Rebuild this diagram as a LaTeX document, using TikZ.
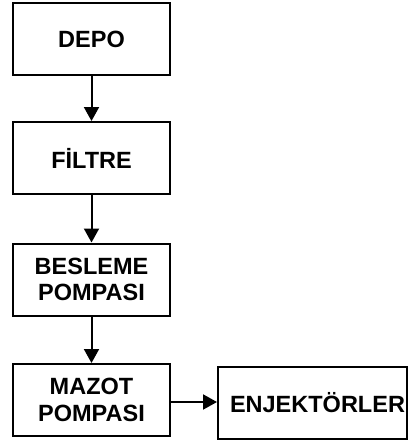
\documentclass[tikz,border=0pt]{standalone}
\usepackage{fontspec}
\setmainfont{Liberation Sans}
\usetikzlibrary{arrows.meta}
\begin{document}
\begin{tikzpicture}[x=1pt,y=-1pt,
  box/.style={draw,line width=2pt,minimum width=157pt,minimum height=72pt,align=center,font=\fontsize{23.5}{26.5}\selectfont\bfseries,inner sep=0pt},
  conn/.style={line width=2pt,-{Triangle[length=14pt,width=15pt]}}]
\useasboundingbox (0,0) rectangle (408,440);
\node[box] (depo) at (91.5,39) {DEPO};
\node[box] (filtre) at (91.5,158) {FİLTRE};
\node[box] (besleme) at (91.5,279.5) {BESLEME\\POMPASI};
\node[box] (mazot) at (91.5,400) {MAZOT\\POMPASI};
\node[box,minimum width=189pt] (enj) at (312.5,403) {\hspace*{10pt}ENJEKTÖRLER};
\draw[conn] (depo) -- (filtre);
\draw[conn] (filtre) -- (besleme);
\draw[conn] (besleme) -- (mazot);
\draw[conn] (mazot.east |- 0,402) -- (enj.west |- 0,402);
\end{tikzpicture}
\end{document}
